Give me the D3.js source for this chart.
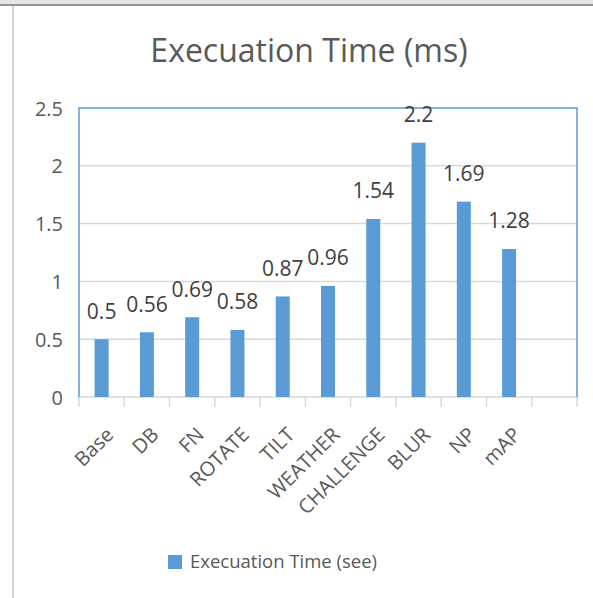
<!DOCTYPE html>
<html>
<head>
<meta charset="utf-8">
<script src="https://cdn.jsdelivr.net/npm/d3@7"></script>
<style>
  html, body { margin: 0; padding: 0; background: #fff; }
  svg { display: block; font-family: "Open Sans", "Noto Sans", sans-serif; }
</style>
</head>
<body>
<svg id="chart" width="593" height="598"></svg>
<script>
// Execution time per configuration (ms)
const categories = ["Base", "DB", "FN", "ROTATE", "TILT", "WEATHER", "CHALLENGE", "BLUR", "NP", "mAP", ""];
const values = [0.5, 0.56, 0.69, 0.58, 0.87, 0.96, 1.54, 2.2, 1.69, 1.28, null];
const yTicks = [0, 0.5, 1, 1.5, 2, 2.5];
const title = "Execuation Time (ms)";
const seriesName = "Execuation Time (see)";

const barColor = "#5b9bd5";
const textColor = "#595959";
const gridColor = "#d9d9d9";

const svg = d3.select("#chart");
const W = 593, H = 598;
const plot = { left: 79, right: 577, top: 108, bottom: 397 };

// window frame lines
svg.append("rect").attr("x", 0).attr("y", 0).attr("width", W).attr("height", 4).attr("fill", "#e6e6e6");
svg.append("line").attr("x1", 0).attr("x2", W).attr("y1", 5).attr("y2", 5)
  .attr("stroke", "#6e6e6e").attr("stroke-width", 1.5);
svg.append("line").attr("x1", 13).attr("x2", 13).attr("y1", 6).attr("y2", H)
  .attr("stroke", "#d4d4d4").attr("stroke-width", 2);

const x = d3.scaleBand().domain(d3.range(categories.length))
  .range([plot.left, plot.right]).paddingInner(0).paddingOuter(0);
const y = d3.scaleLinear().domain([0, 2.5]).range([plot.bottom, plot.top]);

// title
svg.append("text").attr("x", 309).attr("y", 62).attr("text-anchor", "middle")
  .attr("font-size", 32).attr("fill", textColor).text(title);

// gridlines
svg.append("g").selectAll("line").data(yTicks.filter(d => d > 0 && d < 2.5)).join("line")
  .attr("x1", plot.left).attr("x2", plot.right)
  .attr("y1", d => y(d)).attr("y2", d => y(d))
  .attr("stroke", gridColor).attr("stroke-width", 1.5);

// y axis labels
const yAxis = d3.axisLeft(y).tickValues(yTicks).tickSize(0).tickPadding(16)
  .tickFormat(d3.format("~g"));
const gy = svg.append("g").attr("transform", `translate(${plot.left},0)`).call(yAxis);
gy.select(".domain").remove();
gy.selectAll("text").attr("font-size", 20).attr("fill", textColor)
  .attr("font-family", "Open Sans, sans-serif").attr("dy", "0.35em");

// bottom axis with tick marks between categories
svg.append("line").attr("x1", plot.left).attr("x2", plot.right)
  .attr("y1", plot.bottom).attr("y2", plot.bottom)
  .attr("stroke", gridColor).attr("stroke-width", 1.5);
const bounds = d3.range(categories.length + 1).map(i => plot.left + i * x.bandwidth());
svg.append("g").selectAll("line").data(bounds).join("line")
  .attr("x1", d => d).attr("x2", d => d)
  .attr("y1", plot.bottom).attr("y2", plot.bottom + 10)
  .attr("stroke", gridColor).attr("stroke-width", 1.5);

// bars
const barW = 14;
const data = values.map((v, i) => ({ i, v })).filter(d => d.v != null);
svg.append("g").selectAll("rect").data(data).join("rect")
  .attr("x", d => x(d.i) + x.bandwidth() / 2 - barW / 2)
  .attr("y", d => y(d.v))
  .attr("width", barW)
  .attr("height", d => y(0) - y(d.v))
  .attr("fill", barColor);

// plot border (left, top, right)
svg.append("path")
  .attr("d", `M${plot.left},${plot.bottom}V${plot.top}H${plot.right}V${plot.bottom}`)
  .attr("fill", "none").attr("stroke", barColor).attr("stroke-width", 1.5);

// value labels
svg.append("g").selectAll("text").data(data).join("text")
  .attr("x", d => x(d.i) + x.bandwidth() / 2)
  .attr("y", d => y(d.v) - 28)
  .attr("dy", "0.35em")
  .attr("text-anchor", "middle")
  .attr("font-size", 21).attr("fill", "#404040")
  .text(d => d3.format("~g")(d.v));

// category labels, rotated
svg.append("g").selectAll("text").data(categories.map((c, i) => ({ c, i })).filter(d => d.c)).join("text")
  .attr("transform", d => `translate(${x(d.i) + x.bandwidth() / 2 + 8},${plot.bottom + 34}) rotate(-45)`)
  .attr("text-anchor", "end")
  .attr("dy", "0.35em")
  .attr("font-size", 20).attr("fill", textColor)
  .text(d => d.c);

// legend
svg.append("rect").attr("x", 168).attr("y", 555).attr("width", 14).attr("height", 14).attr("fill", barColor);
svg.append("text").attr("x", 190).attr("y", 562).attr("dy", "0.35em")
  .attr("font-size", 18.5).attr("fill", textColor).text(seriesName);
</script>
</body>
</html>
